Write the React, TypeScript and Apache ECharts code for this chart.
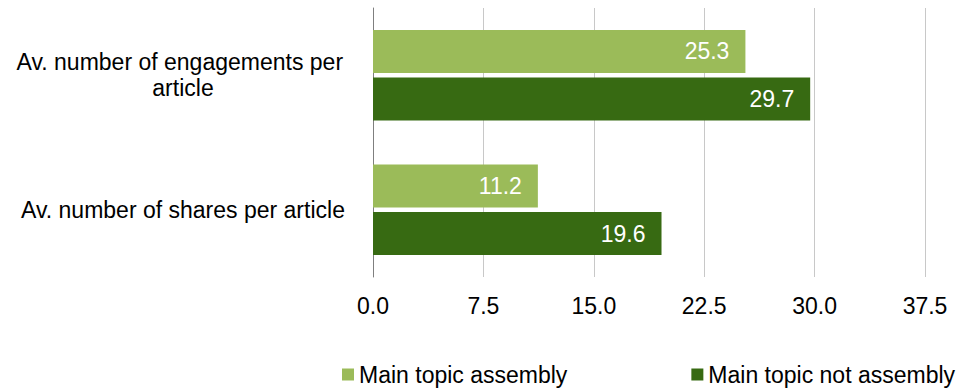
import React, { useEffect, useRef } from "react";
import * as echarts from "echarts";

// Average engagement metrics per article, split by main topic
const categories = [
  "Av. number of engagements per article",
  "Av. number of shares per article",
];
const seriesNames = ["Main topic assembly", "Main topic not assembly"];
const assemblyValues = [25.3, 11.2];
const notAssemblyValues = [29.7, 19.6];
const xTicks = { min: 0, max: 37.5, step: 7.5 };

const FONT = "'Liberation Sans', Arial, sans-serif";
const FONT_SIZE = 23;
const LIGHT = "#9BBB59";
const DARK = "#376A12";

export default function App() {
  const ref = useRef<HTMLDivElement>(null);

  useEffect(() => {
    if (!ref.current) return;
    const chart = echarts.init(ref.current, null, { renderer: "svg" });
    const label = {
      show: true,
      position: "insideRight" as const,
      distance: 16,
      color: "#ffffff",
      fontFamily: FONT,
      fontSize: FONT_SIZE,
      formatter: (p: any) => Number(p.value).toFixed(1),
    };
    chart.setOption({
      animation: false,
      textStyle: { fontFamily: FONT },
      grid: { left: 373, right: 43, top: 8, bottom: 112, containLabel: false },
      legend: {
        left: 342,
        top: 363,
        width: 626,
        padding: 0,
        itemGap: 124,
        itemWidth: 12,
        itemHeight: 12,
        icon: "rect",
        textStyle: { fontFamily: FONT, fontSize: FONT_SIZE, color: "#000" },
        itemStyle: { borderWidth: 0 },
        data: seriesNames,
      },
      xAxis: {
        type: "value",
        min: xTicks.min,
        max: xTicks.max,
        interval: xTicks.step,
        axisLine: { show: false },
        axisTick: { show: false },
        splitLine: { show: true, lineStyle: { color: "#c8c8c8", width: 1 } },
        axisLabel: {
          color: "#000",
          fontFamily: FONT,
          fontSize: FONT_SIZE,
          margin: 17,
          formatter: (v: number) => v.toFixed(1),
        },
      },
      yAxis: {
        type: "category",
        inverse: true,
        data: categories,
        axisLine: { show: true, lineStyle: { color: "#7f7f7f", width: 1 } },
        axisTick: { show: false },
        axisLabel: {
          color: "#000",
          fontFamily: FONT,
          fontSize: FONT_SIZE,
          lineHeight: 26,
          align: "center",
          margin: 190,
          width: 345,
          overflow: "break",
        },
      },
      series: [
        {
          name: seriesNames[0],
          type: "bar",
          data: assemblyValues,
          barWidth: 43,
          barGap: "11%",
          itemStyle: { color: LIGHT },
          label,
        },
        {
          name: seriesNames[1],
          type: "bar",
          data: notAssemblyValues,
          barWidth: 43,
          barGap: "11%",
          itemStyle: { color: DARK },
          label,
        },
      ],
    });
    return () => chart.dispose();
  }, []);

  return (
    <div
      ref={ref}
      style={{ position: "absolute", left: 0, top: 0, width: 968, height: 389, background: "#fff" }}
    />
  );
}
